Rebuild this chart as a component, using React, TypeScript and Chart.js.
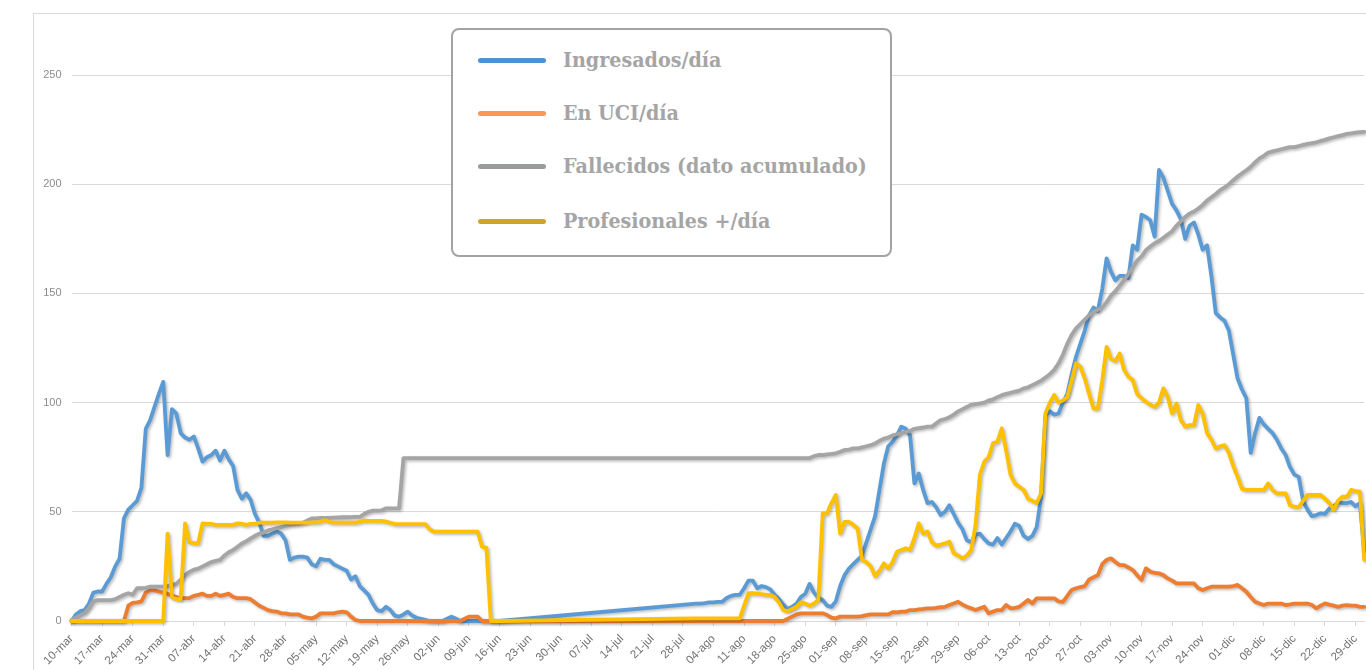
import React, { useEffect, useRef } from "react";
import { Chart, registerables } from "chart.js";

Chart.register(...registerables);

const N = null;

// Month spans of the period shown: [abbreviation, first day, last day]
const MONTH_SPANS: [string, number, number][] = [
  ["mar", 10, 31], ["abr", 1, 30], ["may", 1, 31], ["jun", 1, 30], ["jul", 1, 31],
  ["ago", 1, 31], ["sep", 1, 30], ["oct", 1, 31], ["nov", 1, 30], ["dic", 1, 31],
];
const CATEGORIES: string[] = [];
for (const [m, a, b] of MONTH_SPANS) {
  for (let d = a; d <= b; d++) CATEGORIES.push(String(d).padStart(2, "0") + "-" + m);
}
const TICK_EVERY = 7;

const Y_MIN = 0;
const Y_MAX = 250;
const Y_STEP = 50;

const INGRESADOS: (number | null)[] = [
  0, 3, 4.5, 5, 8, 13, 13.5,
  13.5, 17, 20, 25, 28.5, 47, 51,
  53, 55, 61, 88, 92, 98, 104,
  109.5, 76, 97, 95, 86, 84, 83,
  84.5, 79, 73, 75, 76, 78, 73.5,
  78, 74, 71, 60, 56, 58.5, 55.5,
  49, 45, 39, 39, 40, 41, 40,
  37, 28, 29, 29.5, 29.5, 29, 26,
  25, 28.5, 28, 28, 26, 25, 24,
  23, 19, 20.5, 16, 14, 12, 8,
  5, 4.5, 6.5, 5, 2.5, 2, 3,
  4.3, 2.5, 1.5, 1, 0.5, 0, 0,
  0, 0, 1, 2, 1, 0, 0,
  0, 0, 0, 0, 0, 0, 0,
  0, N, N, N, N, N, N,
  N, N, N, N, N, N, N,
  N, N, N, N, N, N, N,
  N, N, N, N, N, N, N,
  N, N, N, N, N, N, N,
  N, N, N, N, N, N, N,
  N, N, N, 8, 8, 8.2, 8.5,
  8.5, 8.8, 8.8, 10.5, 11.5, 12, 12,
  15, 18.5, 18.5, 15, 16, 15.5, 14.5,
  12, 10, 7.5, 5.5, 6.5, 8, 11,
  12.5, 17, 13, 10.5, 9.6, 7, 6.5,
  9, 16, 21, 24, 26, 28, 30,
  36, 42, 48, 60, 72, 80, 82,
  85, 89, 88, 85, 63, 67.5, 60,
  54, 54.5, 52, 48.5, 50, 53, 49,
  45, 42, 37, 36, 39.5, 40, 37.5,
  35.5, 35, 38, 35, 38, 41, 44.5,
  43.5, 39, 37.5, 39, 43, 57, 94,
  96, 94.5, 95, 100, 104, 113, 121,
  127, 133, 140, 143.5, 142, 152, 166,
  160, 156, 158, 158, 157, 172, 170,
  186, 185, 183.5, 176, 206.5, 203, 197,
  191, 188, 184, 175, 181, 182.5, 177,
  170, 172, 158, 141, 139, 137.5, 133,
  122, 111, 106, 102, 77, 86, 93,
  90, 88, 86, 83, 79, 76, 70.5,
  67, 66, 55, 51, 48, 48.5, 49.3,
  49, 51.5, 52.5, 54.5, 54, 54, 54.5,
  52.5, 54, 32,
];

const EN_UCI: (number | null)[] = [
  0, 0, 0, 0, 0, 0, 0,
  0, 0, 0, 0, 0, 0, 7,
  8.3, 8.5, 9, 13, 14, 14, 13.5,
  13, 12.5, 11.5, 11, 10.5, 10.5, 10.5,
  11.5, 12, 12.5, 11.5, 11.5, 12.5, 11.5,
  12, 12.5, 11, 10.5, 10.5, 10.5, 10,
  8.5, 7, 6, 5, 4.5, 4.3, 3.5,
  3.5, 3, 3, 3, 2, 1.5, 1.2,
  2, 3.5, 3.5, 3.5, 3.5, 4, 4.3,
  4, 2, 0.5, 0, 0, 0, 0,
  0, 0, 0, 0, 0, 0, 0,
  0, 0, 0, 0, 0, 0, 0,
  0, 0, 0, 0, 0, 0, 1,
  2, 2, 2, 0, 0, 0, 0,
  0, N, N, N, N, N, N,
  N, N, N, N, N, N, N,
  N, N, N, N, N, N, N,
  N, N, N, N, N, N, N,
  N, N, N, N, N, N, N,
  N, N, N, N, N, N, N,
  N, N, N, 0, 0, 0, 0,
  0, 0, 0, 0, 0, 0, 0,
  0, 0, 0, 0, 0, 0, 0,
  0, 0, 0, 1, 2, 3, 3.5,
  3.5, 3.5, 3.5, 3.5, 3.5, 2.7, 1.5,
  1.2, 2, 2, 2, 2, 2, 2.2,
  2.7, 3, 3, 3, 3, 3, 4,
  4, 4.3, 4.3, 5, 5, 5.3, 5.5,
  5.8, 5.8, 6, 6.3, 6.5, 7.3, 8,
  8.8, 7.5, 6.5, 5.8, 5, 5.8, 6.5,
  3.5, 4.3, 5, 5, 7.3, 5.8, 6,
  6.5, 8, 9.6, 8, 10.4, 10.4, 10.4,
  10.4, 10.4, 9, 8.8, 11.5, 14.2, 15,
  15.5, 16, 19, 20, 21, 26, 28,
  28.7, 27, 25.6, 25.6, 24.5, 23.3, 21,
  18.8, 24.1, 22.6, 22, 21.8, 21, 19.5,
  18.5, 17.2, 17.2, 17.2, 17.2, 17.2, 15,
  14.2, 15, 15.7, 15.7, 15.7, 15.7, 15.7,
  16, 16.5, 15, 13.4, 11, 8.8, 8,
  7.3, 8, 8, 8, 8, 7.3, 7.6,
  8, 8, 8, 8, 7.3, 5.8, 7,
  8.1, 7.5, 7, 6.5, 7, 7.3, 7,
  7, 6.5, 6.5,
];

const FALLECIDOS: (number | null)[] = [
  0.5, 1.5, 2.5, 3.5, 6, 9, 9.6,
  9.6, 9.6, 9.6, 10, 11, 12, 12.7,
  12, 15, 15, 15.2, 15.7, 15.7, 15.7,
  15.7, 16, 16.5, 17, 19, 21, 22.5,
  23.5, 24, 25, 26, 27, 27.5, 28,
  30, 31.5, 32.5, 34, 35.5, 36.5, 37.8,
  39, 40, 40.5, 41.5, 42, 42.5, 43,
  43.5, 44, 44.2, 44.5, 45, 46, 47,
  47, 47.2, 47.2, 47.2, 47.3, 47.4, 47.5,
  47.5, 47.6, 47.7, 47.7, 49, 50, 50.5,
  50.5, 50.7, 51.6, 51.6, 51.6, 51.6, 74.6,
  74.6, 74.6, 74.6, 74.6, 74.6, 74.6, 74.6,
  74.6, 74.6, 74.6, 74.6, 74.6, 74.6, 74.6,
  74.6, 74.6, 74.6, 74.6, 74.6, 74.6, 74.6,
  74.6, N, N, N, N, N, N,
  N, N, N, N, N, N, N,
  N, N, N, N, N, N, N,
  N, N, N, N, N, N, N,
  N, N, N, N, N, N, N,
  N, N, N, N, N, N, N,
  N, N, N, 74.6, 74.6, 74.6, 74.6,
  74.6, 74.6, 74.6, 74.6, 74.6, 74.6, 74.6,
  74.6, 74.6, 74.6, 74.6, 74.6, 74.6, 74.6,
  74.6, 74.6, 74.6, 74.6, 74.6, 74.6, 74.6,
  74.6, 74.6, 75.5, 76, 76, 76.3, 76.5,
  76.8, 77.5, 78.3, 78.5, 79, 79, 79.5,
  80, 80.5, 81.3, 82.5, 83.5, 84, 85,
  85.5, 86, 86.5, 87, 88, 88.3, 88.6,
  89, 89, 90.5, 92, 92.5, 93.3, 94.5,
  96, 97, 98, 99, 99.3, 99.6, 100,
  101, 101.5, 102.5, 103.4, 104, 104.5, 105,
  105.5, 106.5, 107, 108, 109, 110, 111.5,
  113, 115, 118, 122, 127, 131, 134,
  136, 138, 140, 141.6, 142.5, 143.5, 146,
  149, 151, 153.5, 156, 159, 162, 165,
  167, 169.8, 171.5, 173, 174, 175.5, 177,
  178.5, 181, 183, 185, 186.6, 187.5, 188.9,
  190.5, 192.5, 194, 195.5, 197.3, 198.5, 200,
  201.8, 203.5, 205, 206.4, 208, 210, 211.8,
  213, 214.5, 215, 215.5, 216, 216.5, 217,
  217, 217.5, 218, 218.5, 218.8, 219.2, 219.8,
  220.3, 221, 221.5, 222, 222.5, 223, 223.3,
  223.6, 223.8, 224,
];

const PROFESIONALES: (number | null)[] = [
  0, 0, 0, 0, 0, 0, 0,
  0, 0, 0, 0, 0, 0, 0,
  0, 0, 0, 0, 0, 0, 0,
  0, 40, 11, 10, 10, 44.7, 36,
  35.6, 35.6, 44.7, 44.5, 44.5, 44, 44,
  44, 44, 44, 44.7, 44.5, 44, 44.5,
  44.5, 45, 45, 45, 45, 45.2, 45.2,
  45.2, 45, 45, 45, 45, 45, 45.2,
  45.2, 45.4, 46.2, 45.4, 45, 45, 45,
  45, 45, 45, 45.5, 46, 45.8, 45.8,
  45.8, 45.8, 45.5, 45, 44.4, 44.4, 44.4,
  44.4, 44.4, 44.4, 44.4, 44.4, 42, 40.9,
  40.9, 40.9, 40.9, 40.9, 40.9, 40.9, 40.9,
  40.9, 40.9, 40.9, 34, 33.5, 0, 0,
  0, N, N, N, N, N, N,
  N, N, N, N, N, N, N,
  N, N, N, N, N, N, N,
  N, N, N, N, N, N, N,
  N, N, N, N, N, N, N,
  N, N, N, N, N, N, N,
  N, N, N, 1.2, 1.2, 1.2, 1.2,
  1.2, 1.2, 1.2, 1.2, 1.2, 1.2, 1.2,
  7, 12.7, 12.7, 12.5, 12.3, 12, 12,
  11, 8.5, 5, 4.5, 5.5, 6.5, 8.5,
  8, 7, 8, 9.6, 49.3, 49.3, 54,
  57.7, 40, 45.4, 45.4, 44, 42.4, 28,
  27, 25, 20.5, 23, 26.4, 24, 27,
  31.7, 32.5, 33.3, 32.5, 38, 44.7, 40,
  41, 36, 34.5, 35, 35.6, 36.3, 31,
  30, 28.7, 30, 32.5, 44, 67, 73,
  75, 81.5, 82, 88.2, 78, 67, 63,
  61.5, 60, 56, 55, 54, 58.4, 95,
  100, 103.5, 100, 101, 102.6, 110, 118,
  116.4, 111, 104, 97.3, 97.3, 110, 125.5,
  120, 119, 122.5, 115, 111.8, 110.3, 104,
  102, 100.4, 99, 98.1, 100, 106.5, 102.6,
  95, 99.6, 92, 89, 89.7, 89.7, 98.9,
  95, 86, 83, 79, 80, 80.5, 77,
  71, 66, 60.5, 60, 60, 60, 60,
  60, 63, 60, 58.4, 58.4, 58.4, 53,
  52.3, 52.3, 55, 57.7, 57.7, 57.7, 57.7,
  56, 54, 51, 55, 56.9, 56.9, 60,
  59.5, 59.2, 28,
];

const SERIES = [
  { label: "Ingresados/día", data: INGRESADOS, color: "#5B9BD5", legendColor: "#4e92d2", order: 4 },
  { label: "En UCI/día", data: EN_UCI, color: "#ED7D31", legendColor: "#fb9653", order: 3 },
  { label: "Fallecidos (dato acumulado)", data: FALLECIDOS, color: "#A5A5A5", legendColor: "#9a9b9d", order: 2 },
  { label: "Profesionales +/día", data: PROFESIONALES, color: "#FFC000", legendColor: "#d5a12a", order: 1 },
];

const shadowPlugin = {
  id: "lineShadow",
  beforeDatasetDraw(chart: any) {
    const c = chart.ctx;
    c.save();
    c.shadowColor = "rgba(0,0,0,0.28)";
    c.shadowBlur = 3;
    c.shadowOffsetX = 1.5;
    c.shadowOffsetY = 1.5;
  },
  afterDatasetDraw(chart: any) {
    chart.ctx.restore();
  },
};

export default function App() {
  const ref = useRef<HTMLCanvasElement | null>(null);

  useEffect(() => {
    if (!ref.current) return;
    const chart = new Chart(ref.current, {
      type: "line",
      data: {
        labels: CATEGORIES,
        datasets: SERIES.map((s) => ({
          label: s.label,
          data: s.data,
          borderColor: s.color,
          backgroundColor: s.color,
          borderWidth: 3.8,
          pointRadius: 0,
          tension: 0,
          spanGaps: true,
          clip: false as any,
          order: s.order,
          borderJoinStyle: "round" as const,
          borderCapStyle: "round" as const,
        })),
      },
      options: {
        responsive: false,
        animation: false,
        devicePixelRatio: 1,
        layout: { padding: { left: 0, right: 13, top: 75, bottom: 0 } },
        plugins: { legend: { display: false }, tooltip: { enabled: false } },
        scales: {
          x: {
            type: "category",
            ticks: {
              autoSkip: false,
              minRotation: 45,
              maxRotation: 45,
              padding: 6,
              color: "#707070",
              font: { family: "'Liberation Sans', Arial, sans-serif", size: 11.5 },
              callback: (_v: any, i: number) => (i % TICK_EVERY === 0 ? CATEGORIES[i] : ""),
            },
            grid: {
              drawOnChartArea: false,
              drawTicks: true,
              tickLength: 5,
              color: (ctx: any) => (ctx.index % TICK_EVERY === 0 ? "#d9d9d9" : "rgba(0,0,0,0)"),
            },
            border: { color: "#d9d9d9" },
            afterFit: (s: any) => {
              s.height = 49;
            },
          },
          y: {
            min: Y_MIN,
            max: Y_MAX,
            ticks: {
              stepSize: Y_STEP,
              padding: 10,
              color: "#8c8c8c",
              font: { family: "'Liberation Sans', Arial, sans-serif", size: 11 },
            },
            grid: { color: "#d9d9d9", drawTicks: false },
            border: { display: false },
            afterFit: (s: any) => {
              s.width = 71.5;
            },
          },
        },
      },
      plugins: [shadowPlugin],
    });
    return () => chart.destroy();
  }, []);

  const rowCenters = [30, 83, 136, 191];

  return (
    <div
      style={{
        position: "absolute",
        left: 0,
        top: 0,
        width: 1366,
        height: 670,
        overflow: "hidden",
        background: "#ffffff",
      }}
    >
      <div
        style={{
          position: "absolute",
          left: 33,
          top: 13,
          width: 2000,
          height: 1000,
          borderLeft: "1px solid #d9d9d9",
          borderTop: "1px solid #d9d9d9",
        }}
      />
      <canvas ref={ref} width={1380} height={670} style={{ position: "absolute", left: 0, top: 0 }} />
      <div
        style={{
          position: "absolute",
          left: 451,
          top: 28,
          width: 441,
          height: 229,
          boxSizing: "border-box",
          border: "2px solid #a3a3a3",
          borderRadius: 8,
          background: "#ffffff",
        }}
      >
        {SERIES.map((s, i) => (
          <React.Fragment key={s.label}>
            <div
              style={{
                position: "absolute",
                left: 25,
                top: rowCenters[i] - 2.5,
                width: 68,
                height: 5,
                borderRadius: 3,
                background: s.legendColor,
              }}
            />
            <div
              style={{
                position: "absolute",
                left: 110,
                top: rowCenters[i],
                transform: "translateY(-50%) scaleX(0.91)",
                transformOrigin: "left center",
                whiteSpace: "nowrap",
                fontFamily: "'DejaVu Serif', serif",
                fontWeight: "bold",
                fontSize: 21,
                lineHeight: "24px",
                color: "#a5a5a5",
              }}
            >
              {s.label}
            </div>
          </React.Fragment>
        ))}
      </div>
    </div>
  );
}
